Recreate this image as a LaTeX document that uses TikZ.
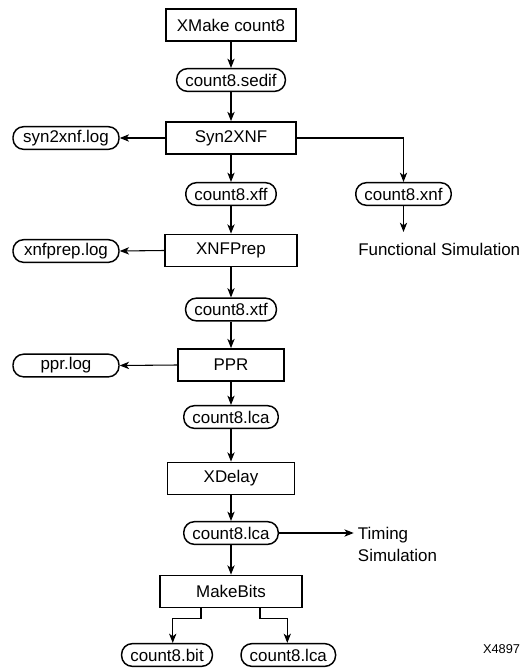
\documentclass[tikz,border=0pt]{standalone}
\usepackage{fontspec}
\setmainfont{Liberation Sans}
\usepackage{tikz}
\usetikzlibrary{arrows.meta}

\tikzset{
  toolbox/.style={draw, line width=1.3pt, minimum height=24pt, inner sep=0pt},
  filebox/.style={draw, line width=1.1pt, rounded corners=8pt, minimum height=17pt, inner xsep=6.5pt, inner ysep=0pt},
  logbox/.style={filebox, minimum width=79.5pt},
  flow/.style={line width=0.8pt, -{Stealth[length=7pt, width=5.5pt, inset=2pt]}}
}

\begin{document}
\begin{tikzpicture}[x=0.75pt, y=-0.75pt, font=\fontsize{12.7}{16.5}\selectfont]

\useasboundingbox (0,0) rectangle (525,671);

% tools down the middle
\node[toolbox, minimum width=97.5pt] (xmake) at (231,25) {XMake count8};
\node[toolbox, minimum width=97.5pt] (syn) at (231,138) {Syn2XNF};
\node[toolbox, minimum width=99pt] (xnfprep) at (231,250.5) {XNFPrep};
\node[toolbox, minimum width=79.5pt] (ppr) at (231,365) {PPR};
\node[toolbox, minimum width=95.25pt] (xdelay) at (231,478.5) {XDelay};
\node[toolbox, minimum width=106.5pt] (makebits) at (231,591.5) {MakeBits};

% files
\node[filebox] (sedif) at (231,80) {count8.sedif};
\node[filebox] (xff) at (231,194) {count8.xff};
\node[filebox] (xnf) at (403.5,194) {count8.xnf};
\node[filebox] (xtf) at (231,309.5) {count8.xtf};
\node[filebox] (lcaA) at (231,417) {count8.lca};
\node[filebox] (lcaB) at (231,533) {count8.lca};
\node[filebox] (bit) at (167,655) {count8.bit};
\node[filebox] (lcaC) at (288.3,655) {count8.lca};

% log files
\node[logbox] (synlog) at (66,138) {syn2xnf.log};
\node[logbox] (xnflog) at (66,251) {xnfprep.log};
\node[logbox] (pprlog) at (66,365.5) {ppr.log};

% text
\node[anchor=base west, inner sep=0pt] (funcsim) at (358,255) {Functional Simulation};
\coordinate (funcsimtop) at (403.5,232);
\node[anchor=west, align=left, inner xsep=3pt, inner ysep=0pt] (timing) at (353.7,544) {Timing\\Simulation};
\node[font=\fontsize{9.6}{11}\selectfont, inner sep=0pt] (fignum) at (501.5,649.5) {X4897};

% arrows
\draw[flow] (xmake) -- (sedif);
\draw[flow] (sedif) -- (syn);
\draw[flow] (syn) -- (xff);
\draw[flow] (syn.west) -- (synlog.east);
\draw[flow] (syn.east) -| (xnf.north);
\draw[flow] (xnf.south) -- (funcsimtop);
\draw[flow] (xff) -- (xnfprep);
\draw[flow] (xnfprep.west) -- (xnflog.east);
\draw[flow] (xnfprep) -- (xtf);
\draw[flow] (xtf) -- (ppr);
\draw[flow] (ppr.west) -- (pprlog.east);
\draw[flow] (ppr) -- (lcaA);
\draw[flow] (lcaA) -- (xdelay);
\draw[flow] (xdelay) -- (lcaB);
\draw[flow] (lcaB.east) -- (timing.west |- lcaB.east);
\draw[flow] (lcaB) -- (makebits);
\draw[flow] ([xshift=-22.5pt]makebits.south) -- ++(0,10) -| ([xshift=4.3pt]bit.north); %left split
\draw[flow] ([xshift=21.75pt]makebits.south) -- ++(0,10) -| ([xshift=-0.75pt]lcaC.north); %right split
\end{tikzpicture}
\end{document}
